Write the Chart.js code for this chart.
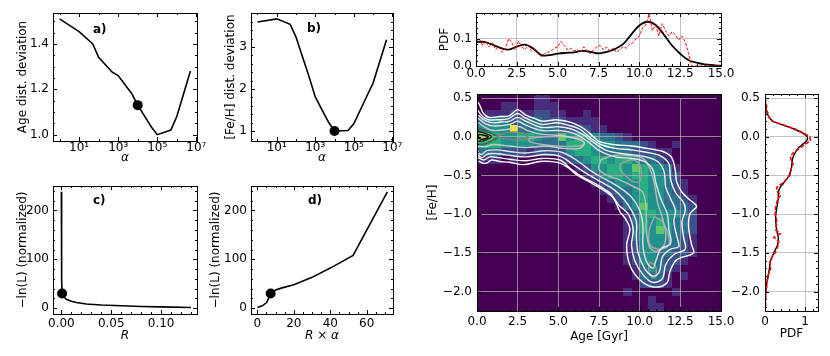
<!DOCTYPE html>
<html>
<head>
<meta charset="utf-8">
<script src="https://cdn.jsdelivr.net/npm/chart.js@4.4.1/dist/chart.umd.min.js"></script>
<style>
html, body { margin: 0; padding: 0; background: #fff; }
#fig { position: relative; width: 830px; height: 356px; }
#fig canvas { position: absolute; left: 0; top: 0; }
</style>
</head>
<body>
<div id="fig">
  <canvas id="cA" width="830" height="356"></canvas>
  <canvas id="cB" width="830" height="356"></canvas>
  <canvas id="cC" width="830" height="356"></canvas>
  <canvas id="cD" width="830" height="356"></canvas>
  <canvas id="cTop" width="830" height="356"></canvas>
  <canvas id="cMain" width="830" height="356"></canvas>
  <canvas id="cRight" width="830" height="356"></canvas>
</div>
<script>
//#region data

// a) / b): deviation vs alpha
const alphaVals = [1, 10, 50, 100, 500, 1000, 5000, 1e4, 5e4, 1e5, 5e5, 1e6, 5e6];
const ageDev = [1.51, 1.454, 1.40, 1.341, 1.275, 1.26, 1.18, 1.13, 1.034, 1.0, 1.02, 1.08, 1.28];
const fehDev = [3.595, 3.67, 3.54, 3.24, 2.26, 1.81, 1.2, 1.0, 1.01, 1.17, 1.85, 2.14, 3.17];
const bestAlpha = 1e4;
const bestAgeDev = 1.13;
const bestFehDev = 1.0;

// c) / d): -ln(L) vs R and R x alpha
const rVals = [0.0, 0.0001, 0.0004, 0.00073, 0.002, 0.005, 0.01, 0.015, 0.025, 0.04, 0.06, 0.08, 0.1, 0.13];
const lnLvsR = [238, 150, 60, 30, 24, 18, 14, 11.5, 8.5, 6.5, 4.8, 3.5, 2.5, 1.4];
const rAlphaVals = [0, 2.7, 5.1, 7.3, 10, 14, 20, 30, 40, 52.5, 71.3];
const lnLvsRA = [1.4, 4.7, 11.5, 30, 37, 42, 48, 63, 82, 108, 238];
const bestR = 0.00073;
const bestRA = 7.3;
const bestLnL = 30;

// top: age PDF
const ageGrid = [0, 0.5, 1, 1.5, 2, 2.5, 3, 3.5, 4, 4.5, 5, 5.5, 6, 6.5, 7, 7.5, 8, 8.5, 9, 9.5, 10, 10.5, 11, 11.5, 12, 12.5, 13, 13.5, 14, 14.5, 15];
const agePdfModel = [0.088, 0.088, 0.078, 0.066, 0.06, 0.071, 0.078, 0.064, 0.04, 0.04, 0.045, 0.048, 0.05, 0.055, 0.052, 0.046, 0.052, 0.062, 0.08, 0.115, 0.148, 0.162, 0.15, 0.115, 0.075, 0.045, 0.022, 0.012, 0.006, 0.003, 0.001];
const ageHistX = [0, 0.2, 0.4, 0.6, 0.8, 1.0, 1.2, 1.4, 1.6, 1.8, 2.0, 2.2, 2.4, 2.6, 2.8, 3.0, 3.2, 3.4, 3.6, 3.8, 4.0, 4.2, 4.4, 4.6, 4.8, 5.0, 5.2, 5.4, 5.6, 5.8, 6.0, 6.2, 6.4, 6.6, 6.8, 7.0, 7.2, 7.4, 7.6, 7.8, 8.0, 8.2, 8.4, 8.6, 8.8, 9.0, 9.2, 9.4, 9.6, 9.8, 10.0, 10.2, 10.4, 10.6, 10.8, 11.0, 11.2, 11.4, 11.6, 11.8, 12.0, 12.2, 12.4, 12.6, 12.8, 13.0, 13.2, 13.6, 14.0, 14.5, 15.0];
const ageHistY = [0.09, 0.1, 0.075, 0.09, 0.07, 0.085, 0.06, 0.07, 0.05, 0.065, 0.1, 0.085, 0.06, 0.09, 0.07, 0.06, 0.075, 0.055, 0.06, 0.045, 0.035, 0.045, 0.05, 0.055, 0.065, 0.07, 0.09, 0.075, 0.06, 0.065, 0.055, 0.06, 0.05, 0.07, 0.055, 0.045, 0.06, 0.07, 0.075, 0.06, 0.07, 0.055, 0.065, 0.05, 0.06, 0.07, 0.065, 0.08, 0.085, 0.1, 0.11, 0.14, 0.15, 0.19, 0.13, 0.15, 0.11, 0.155, 0.13, 0.11, 0.125, 0.115, 0.095, 0.11, 0.09, 0.05, 0.0, 0.0, 0.0, 0.0, 0.0];

// right: [Fe/H] PDF
const fehGrid = [0.5, 0.4, 0.35, 0.3, 0.25, 0.2, 0.15, 0.1, 0.05, 0.0, -0.05, -0.1, -0.15, -0.2, -0.25, -0.3, -0.35, -0.4, -0.5, -0.6, -0.65, -0.7, -0.75, -0.8, -0.9, -1.0, -1.1, -1.2, -1.25, -1.3, -1.35, -1.4, -1.5, -1.6, -1.7, -1.8, -1.9, -2.0, -2.1, -2.2];
const fehPdfModel = [0.0, 0.02, 0.03, 0.06, 0.1, 0.2, 0.45, 0.72, 0.93, 1.05, 1.04, 0.93, 0.82, 0.76, 0.71, 0.68, 0.67, 0.66, 0.6, 0.46, 0.38, 0.34, 0.33, 0.33, 0.3, 0.27, 0.27, 0.29, 0.31, 0.33, 0.33, 0.31, 0.22, 0.14, 0.11, 0.08, 0.04, 0.02, 0.01, 0.0];
const fehPdfHist = [0.0, 0.04, 0.03, 0.08, 0.1, 0.18, 0.48, 0.75, 0.95, 1.12, 1.13, 1.0, 0.86, 0.72, 0.63, 0.65, 0.7, 0.66, 0.62, 0.44, 0.3, 0.28, 0.4, 0.32, 0.27, 0.25, 0.3, 0.26, 0.38, 0.22, 0.34, 0.33, 0.25, 0.12, 0.14, 0.07, 0.05, 0.03, 0.01, 0.02];

// 2D histogram: rows from [Fe/H] = 0.5 down to -2.2 (step 0.1), columns age 0..15 (step 0.5)
const histAge0 = 0;
const histAgeStep = 0.5;
const histFehTop = 0.5;
const histFehStep = 0.1;
const histRows = [
  "000000011000000000000000000000",
  "000110011100000000000000000000",
  "011121122110010000000000000000",
  "334323332221111000000000000000",
  "444493343322221100000000000000",
  "765445543364544332100000000000",
  "555444433335554443332100100000",
  "333222122224554333322211000000",
  "111010000012345545543321000000",
  "000000000000124455465443100000",
  "000000000000012455455443200000",
  "000000000000001234445443210000",
  "000000000000000123345443210000",
  "000000000000000012345443321000",
  "000000000000000001346443332000",
  "000000000000000000135544432000",
  "000000000000000000135454332000",
  "000000000000000000135464332000",
  "000000000000000000134444321000",
  "000000000000000000124443321000",
  "000000000000000000124433221000",
  "000000000000000000124432210000",
  "000000000000000000013432100000",
  "000000000000000000013331010000",
  "000000000000000000002221000000",
  "000000000000000000100000100000",
  "000000000000000000000100000000",
  "000000000000000000000110000000"
];

// density contours [age, feh]
const contour1 = [[0,0.45],[0.14,0.42],[0.4,0.3],[0.74,0.25],[1.3,0.26],[1.97,0.27],[2.5,0.35],[3.0,0.28],[3.5,0.24],[4.04,0.2],[4.86,0.22],[5.5,0.2],[6.09,0.16],[6.6,0.1],[7.11,0.01],[7.5,-0.06],[8.38,-0.1],[9.5,-0.12],[10.43,-0.15],[11.43,-0.19],[11.9,-0.25],[12.07,-0.32],[12.2,-0.45],[12.27,-0.58],[12.58,-0.71],[13.0,-0.8],[13.5,-0.9],[13.1,-0.99],[13.0,-1.14],[13.1,-1.3],[13.2,-1.4],[13.3,-1.5],[12.27,-1.59],[11.86,-1.74],[11.66,-1.89],[10.84,-1.94],[10.02,-1.85],[9.4,-1.66],[9.2,-1.4],[9.4,-1.19],[9.1,-1.05],[8.79,-0.97],[8.38,-0.79],[7.56,-0.66],[6.8,-0.57],[6.13,-0.49],[5.6,-0.4],[5.1,-0.34],[4.5,-0.32],[3.87,-0.32],[2.85,-0.36],[2.0,-0.33],[1.41,-0.32],[0.9,-0.3],[0.6,-0.34],[0.35,-0.34],[0,-0.3]];
const contour2 = [[0,0.36],[0.3,0.27],[0.7,0.22],[1.3,0.22],[1.9,0.23],[2.5,0.3],[3.0,0.24],[4.0,0.16],[4.9,0.18],[5.6,0.15],[6.3,0.1],[7.0,-0.02],[7.6,-0.1],[8.5,-0.15],[9.5,-0.17],[10.4,-0.2],[11.3,-0.25],[11.8,-0.35],[11.9,-0.55],[12.2,-0.72],[12.7,-0.85],[12.8,-0.95],[12.6,-1.1],[12.7,-1.3],[12.8,-1.45],[12.1,-1.52],[11.6,-1.65],[11.4,-1.83],[10.8,-1.88],[10.2,-1.78],[9.7,-1.6],[9.5,-1.4],[9.6,-1.2],[9.3,-1.0],[8.7,-0.88],[8.2,-0.73],[7.4,-0.62],[6.5,-0.52],[5.8,-0.42],[5.1,-0.3],[4.0,-0.28],[3.0,-0.31],[2.0,-0.29],[1.3,-0.27],[0.8,-0.26],[0.4,-0.3],[0,-0.26]];
const contour3 = [[0,0.3],[0.4,0.22],[0.9,0.18],[1.5,0.19],[2.0,0.2],[2.5,0.25],[3.0,0.2],[4.0,0.12],[5.0,0.13],[5.8,0.1],[6.5,0.03],[7.2,-0.08],[8,-0.18],[9,-0.22],[10.2,-0.25],[11.1,-0.32],[11.5,-0.45],[11.6,-0.65],[11.9,-0.8],[12.2,-0.95],[12.1,-1.1],[12.3,-1.3],[12.4,-1.42],[11.9,-1.45],[11.4,-1.55],[11.2,-1.75],[10.8,-1.8],[10.3,-1.7],[9.9,-1.5],[9.8,-1.3],[9.8,-1.1],[9.5,-0.95],[9.0,-0.8],[8.4,-0.68],[7.6,-0.58],[6.7,-0.47],[5.9,-0.36],[5.2,-0.26],[4.2,-0.23],[3.0,-0.26],[2.0,-0.24],[1.3,-0.22],[0.7,-0.22],[0.3,-0.27],[0,-0.22]];
const contour4 = [[0,0.25],[0.5,0.17],[1.0,0.14],[2.0,0.16],[2.5,0.2],[3.0,0.15],[4.0,0.08],[5.0,0.08],[6.0,0.04],[6.8,-0.06],[7.5,-0.18],[8.5,-0.26],[9.5,-0.28],[10.3,-0.32],[10.8,-0.42],[11.0,-0.6],[11.3,-0.8],[11.7,-1.0],[11.8,-1.2],[11.9,-1.38],[11.3,-1.45],[11.0,-1.6],[10.8,-1.7],[10.4,-1.6],[10.2,-1.4],[10.2,-1.15],[10.0,-0.95],[9.5,-0.78],[8.8,-0.66],[7.9,-0.55],[7.0,-0.44],[6.1,-0.3],[5.2,-0.2],[4.2,-0.18],[3.0,-0.21],[2.0,-0.19],[1.2,-0.17],[0.6,-0.18],[0.25,-0.23],[0,-0.18]];
const contour5 = [[0,0.2],[0.5,0.12],[1.0,0.08],[2.0,0.1],[2.6,0.13],[3.1,0.08],[4.0,0.03],[5.0,0.02],[6.0,-0.02],[6.6,-0.08],[6.3,-0.15],[5.3,-0.15],[4.2,-0.12],[3.1,-0.14],[2.0,-0.12],[1.0,-0.1],[0.5,-0.13],[0,-0.12]];
const contour6 = [[7.6,-0.3],[8.4,-0.24],[9.3,-0.24],[10.2,-0.28],[10.6,-0.4],[10.9,-0.6],[11.1,-0.85],[11.4,-1.05],[11.6,-1.25],[11.5,-1.4],[11.0,-1.48],[10.6,-1.42],[10.4,-1.2],[10.4,-0.95],[10.2,-0.72],[9.6,-0.64],[8.8,-0.56],[8.0,-0.5],[7.5,-0.42],[7.6,-0.3]];
const contour7 = [[3.2,-0.02],[4.3,0.0],[5.5,0.0],[6.4,-0.03],[6.6,-0.08],[6.2,-0.12],[5,-0.12],[4,-0.1],[3.2,-0.06],[3.2,-0.02]];
const contour8 = [[8.8,-0.35],[9.4,-0.3],[9.9,-0.33],[10.1,-0.45],[10.0,-0.57],[9.6,-0.58],[9.1,-0.5],[8.8,-0.42],[8.8,-0.35]];
const contour9 = [[10.9,-1.03],[11.4,-1.1],[11.8,-1.3],[11.7,-1.42],[11.1,-1.45],[10.6,-1.38],[10.6,-1.2],[10.9,-1.03]];
const contour10 = [[10.6,-1.62],[10.95,-1.66],[11.0,-1.8],[10.8,-1.82],[10.55,-1.72],[10.6,-1.62]];
const contour11 = [[1.2,0.0],[1.8,0.05],[2.6,0.06],[3.0,0.03],[3.1,-0.02],[2.5,-0.04],[1.8,-0.03],[1.2,0.0]];
const contour12 = [[0,0.12],[0.5,0.08],[1.1,0.02],[1.3,0.0],[1.1,-0.03],[0.5,-0.09],[0,-0.1]];
const contour13 = [[0,0.07],[0.4,0.05],[0.9,0.0],[0.4,-0.05],[0,-0.06]];
const contour14 = [[0.1,0.03],[0.4,0.02],[0.7,0.0],[0.4,-0.03],[0.1,-0.02],[0.1,0.03]];

//#endregion

Chart.defaults.font.family = "'DejaVu Sans', sans-serif";
Chart.defaults.font.size = 12;
Chart.defaults.color = '#000';
Chart.defaults.animation = false;

const viridis = ['#440154', '#472d7b', '#3b528b', '#2c728e', '#21918c', '#28ae80', '#5ec962', '#addc30', '#d8e219', '#fde725'];
const gridColor = 'rgba(176,176,176,0.75)';

function fmt(d) {
    return v => Number(v).toFixed(d).replace('-', '\u2212');
}

function pts(xs, ys) {
    return xs.map((x, i) => ({ x: x, y: ys[i] }));
}

// matplotlib-like frame with inward ticks on all sides, plus panel label
const framePlugin = {
    id: 'frame',
    afterDraw(chart, args, o) {
        const { ctx, chartArea: a, scales } = chart;
        const x = scales.x, y = scales.y;
        const minors = (scale, m) => {
            if (!m) return [];
            if (Array.isArray(m)) return m;
            const out = [];
            for (let k = Math.ceil(scale.min / m - 1e-9); k <= Math.floor(scale.max / m + 1e-9); k++) out.push(k * m);
            return out;
        };
        ctx.save();
        ctx.strokeStyle = '#000';
        ctx.lineWidth = 1;
        ctx.beginPath();
        const xt = (v, len) => {
            const p = Math.round(x.getPixelForValue(v)) + 0.5;
            if (p < a.left - 0.5 || p > a.right + 1) return;
            ctx.moveTo(p, a.bottom); ctx.lineTo(p, a.bottom - len);
            ctx.moveTo(p, a.top); ctx.lineTo(p, a.top + len);
        };
        const yt = (v, len) => {
            const p = Math.round(y.getPixelForValue(v)) + 0.5;
            if (p < a.top - 0.5 || p > a.bottom + 1) return;
            ctx.moveTo(a.left, p); ctx.lineTo(a.left + len, p);
            ctx.moveTo(a.right, p); ctx.lineTo(a.right - len, p);
        };
        x.ticks.forEach(t => xt(t.value, 4));
        y.ticks.forEach(t => yt(t.value, 4));
        minors(x, o.xMinor).forEach(v => xt(v, 2));
        minors(y, o.yMinor).forEach(v => yt(v, 2));
        ctx.stroke();
        ctx.strokeRect(Math.round(a.left) + 0.5, Math.round(a.top) + 0.5, Math.round(a.right - a.left), Math.round(a.bottom - a.top));
        if (o.label) {
            ctx.fillStyle = '#000';
            ctx.font = "bold 12px 'DejaVu Sans', sans-serif";
            ctx.textBaseline = 'middle';
            ctx.textAlign = 'left';
            ctx.fillText(o.label, a.left + o.lx, a.top + o.ly);
        }
        ctx.restore();
    }
};

// 2D histogram drawn under the grid, through the chart's scales
const heatPlugin = {
    id: 'heat',
    beforeDraw(chart, args, o) {
        if (!o.rows) return;
        const { ctx, chartArea: a, scales: { x, y } } = chart;
        ctx.save();
        ctx.beginPath();
        ctx.rect(a.left, a.top, a.right - a.left, a.bottom - a.top);
        ctx.clip();
        ctx.fillStyle = viridis[0];
        ctx.fillRect(a.left, a.top, a.right - a.left, a.bottom - a.top);
        o.rows.forEach((row, r) => {
            const yc = o.yTop - r * o.dy;
            for (let c = 0; c < row.length; c++) {
                const v = +row[c];
                if (!v) continue;
                const x0 = Math.round(x.getPixelForValue(o.x0 + c * o.dx));
                const x1 = Math.round(x.getPixelForValue(o.x0 + (c + 1) * o.dx));
                const y0 = Math.round(y.getPixelForValue(yc + o.dy / 2));
                const y1 = Math.round(y.getPixelForValue(yc - o.dy / 2));
                ctx.fillStyle = viridis[v];
                ctx.fillRect(x0, y0, x1 - x0, y1 - y0);
            }
        });
        ctx.restore();
    }
};

function axis(type, min, max, ticks, labels, size, title, grid, pad) {
    return {
        type: type,
        min: min,
        max: max,
        afterBuildTicks: s => { s.ticks = ticks.map(v => ({ value: v })); },
        afterFit: s => { if (s.isHorizontal()) s.height = size; else s.width = size; },
        ticks: { callback: labels, autoSkip: false, maxRotation: 0, minRotation: 0, padding: pad == null ? 4 : pad },
        grid: { display: !!grid, drawTicks: false, color: gridColor, lineWidth: 1 },
        border: { display: false },
        title: title ? { display: true, text: title.text, padding: 0, font: { size: 12, style: title.italic ? 'italic' : 'normal' } } : { display: false }
    };
}

function baseOptions(padding, scales, frame, heat) {
    return {
        responsive: false,
        maintainAspectRatio: false,
        animation: false,
        layout: { padding: padding },
        plugins: { legend: { display: false }, tooltip: { enabled: false }, frame: frame, heat: heat || {} },
        scales: scales
    };
}

function lineSet(data, color, width, extra) {
    return Object.assign({
        data: data,
        showLine: true,
        borderColor: color,
        borderWidth: width,
        pointRadius: 0,
        fill: false,
        clip: 0
    }, extra || {});
}

function markerSet(x, y) {
    return {
        data: [{ x: x, y: y }],
        showLine: false,
        pointRadius: 5,
        pointBackgroundColor: '#000',
        pointBorderColor: '#000',
        pointBorderWidth: 0
    };
}

const logLabel = v => {
    const e = Math.round(Math.log10(v));
    const sup = { 1: '\u00b9', 3: '\u00b3', 5: '\u2075', 7: '\u2077' };
    return '10' + (sup[e] || '');
};
const alphaMinor = [1, 100, 1e4, 1e6];

// a)
new Chart(document.getElementById('cA'), {
    type: 'scatter',
    data: { datasets: [lineSet(pts(alphaVals, ageDev), '#000', 1.6), markerSet(bestAlpha, bestAgeDev)] },
    options: baseOptions({ left: 16, right: 633, top: 13, bottom: 191 }, {
        x: axis('logarithmic', 0.462, 1.084e7, [10, 1e3, 1e5, 1e7], logLabel, 24, { text: '\u03b1', italic: true }, false, 0),
        y: axis('linear', 0.972, 1.536, [1.0, 1.2, 1.4], fmt(1), 37, { text: 'Age dist. deviation' })
    }, { xMinor: alphaMinor, yMinor: 0.05, label: 'a)', lx: 40, ly: 17 }),
    plugins: [framePlugin]
});

// b)
new Chart(document.getElementById('cB'), {
    type: 'scatter',
    data: { datasets: [lineSet(pts(alphaVals, fehDev), '#000', 1.6), markerSet(bestAlpha, bestFehDev)] },
    options: baseOptions({ left: 224, right: 437, top: 13, bottom: 191 }, {
        x: axis('logarithmic', 0.462, 1.084e7, [10, 1e3, 1e5, 1e7], logLabel, 24, { text: '\u03b1', italic: true }, false, 0),
        y: axis('linear', 0.76, 3.81, [1, 2, 3], fmt(0), 27, { text: '[Fe/H] dist. deviation' })
    }, { xMinor: alphaMinor, yMinor: 0.2, label: 'b)', lx: 56, ly: 16 }),
    plugins: [framePlugin]
});

// c)
new Chart(document.getElementById('cC'), {
    type: 'scatter',
    data: { datasets: [lineSet(pts(rVals, lnLvsR), '#000', 1.6), markerSet(bestR, bestLnL)] },
    options: baseOptions({ left: 16, right: 633, top: 186, bottom: 13 }, {
        x: axis('linear', -0.0084, 0.136, [0, 0.05, 0.1], fmt(2), 29, { text: 'R', italic: true }, false, 3),
        y: axis('linear', -12, 250, [0, 100, 200], fmt(0), 37, { text: '\u2212ln(L) (normalized)' })
    }, { xMinor: 0.01, yMinor: 20, label: 'c)', lx: 40, ly: 15 }),
    plugins: [framePlugin]
});

// d)
new Chart(document.getElementById('cD'), {
    type: 'scatter',
    data: { datasets: [lineSet(pts(rAlphaVals, lnLvsRA), '#000', 1.6), markerSet(bestRA, bestLnL)] },
    options: baseOptions({ left: 209, right: 437, top: 186, bottom: 13 }, {
        x: axis('linear', -3.5, 74.4, [0, 20, 40, 60], fmt(0), 29, { text: 'R \u00d7 \u03b1', italic: true }, false, 3),
        y: axis('linear', -12, 250, [0, 100, 200], fmt(0), 42, { text: '\u2212ln(L) (normalized)' })
    }, { xMinor: 5, yMinor: 20, label: 'd)', lx: 57, ly: 15 }),
    plugins: [framePlugin]
});

const ageTicks = [0, 2.5, 5, 7.5, 10, 12.5, 15];
const fehTicks = [-2, -1.5, -1, -0.5, 0, 0.5];

// top: age PDF
new Chart(document.getElementById('cTop'), {
    type: 'scatter',
    data: {
        datasets: [
            lineSet(pts(ageHistX, ageHistY), '#ff0000', 1, { borderDash: [3, 1.5] }),
            lineSet(pts(ageGrid, agePdfModel), '#000', 1.8, { tension: 0.4 })
        ]
    },
    options: baseOptions({ left: 438, right: 109, top: 13, bottom: 276 }, {
        x: axis('linear', 0, 15, ageTicks, fmt(1), 14, null, true, 1),
        y: axis('linear', 0, 0.194, [0, 0.1], fmt(1), 38, { text: 'PDF' }, true)
    }, { xMinor: 0.5, yMinor: 0.02 }),
    plugins: [framePlugin]
});

// main: 2D histogram + contours
const contourStyles = [
    [contour1, '#ffffff'], [contour2, '#f8f8f8'], [contour3, '#f0f0f0'], [contour4, '#e4e4e4'],
    [contour5, '#cccccc'], [contour6, '#bbbbbb'], [contour7, '#b0b0b0'], [contour8, '#a0a0a0'],
    [contour9, '#a5a5a5'], [contour10, '#999999'], [contour11, '#808080'], [contour12, '#555555'],
    [contour13, '#222222'], [contour14, '#000000']
];
new Chart(document.getElementById('cMain'), {
    type: 'scatter',
    data: {
        datasets: contourStyles.map(c => lineSet(c[0].map(p => ({ x: p[0], y: p[1] })), c[1], 1.4, { tension: 0.35 }))
    },
    options: baseOptions({ left: 426, right: 109, top: 94, bottom: 12 }, {
        x: axis('linear', 0, 15, ageTicks, fmt(1), 33, { text: 'Age [Gyr]' }, true, 4),
        y: axis('linear', -2.25, 0.552, fehTicks, fmt(1), 51, { text: '[Fe/H]' }, true, 5)
    }, { xMinor: 0.5, yMinor: 0.1 }, {
        rows: histRows, x0: histAge0, dx: histAgeStep, yTop: histFehTop, dy: histFehStep
    }),
    plugins: [heatPlugin, framePlugin]
});

// right: [Fe/H] PDF
new Chart(document.getElementById('cRight'), {
    type: 'scatter',
    data: {
        datasets: [
            lineSet(pts(fehPdfHist, fehGrid), '#ff0000', 1.6, { borderDash: [4, 2] }),
            lineSet(pts(fehPdfModel, fehGrid), '#000', 1.4, { tension: 0.3 })
        ]
    },
    options: baseOptions({ left: 725, right: 12, top: 94, bottom: 15 }, {
        x: axis('linear', 0, 1.32, [0, 1], fmt(0), 30, { text: 'PDF' }, true, 4),
        y: axis('linear', -2.25, 0.552, fehTicks, fmt(1), 40, null, true, 5)
    }, { xMinor: 0.2, yMinor: 0.1 }),
    plugins: [framePlugin]
});
</script>
</body>
</html>
